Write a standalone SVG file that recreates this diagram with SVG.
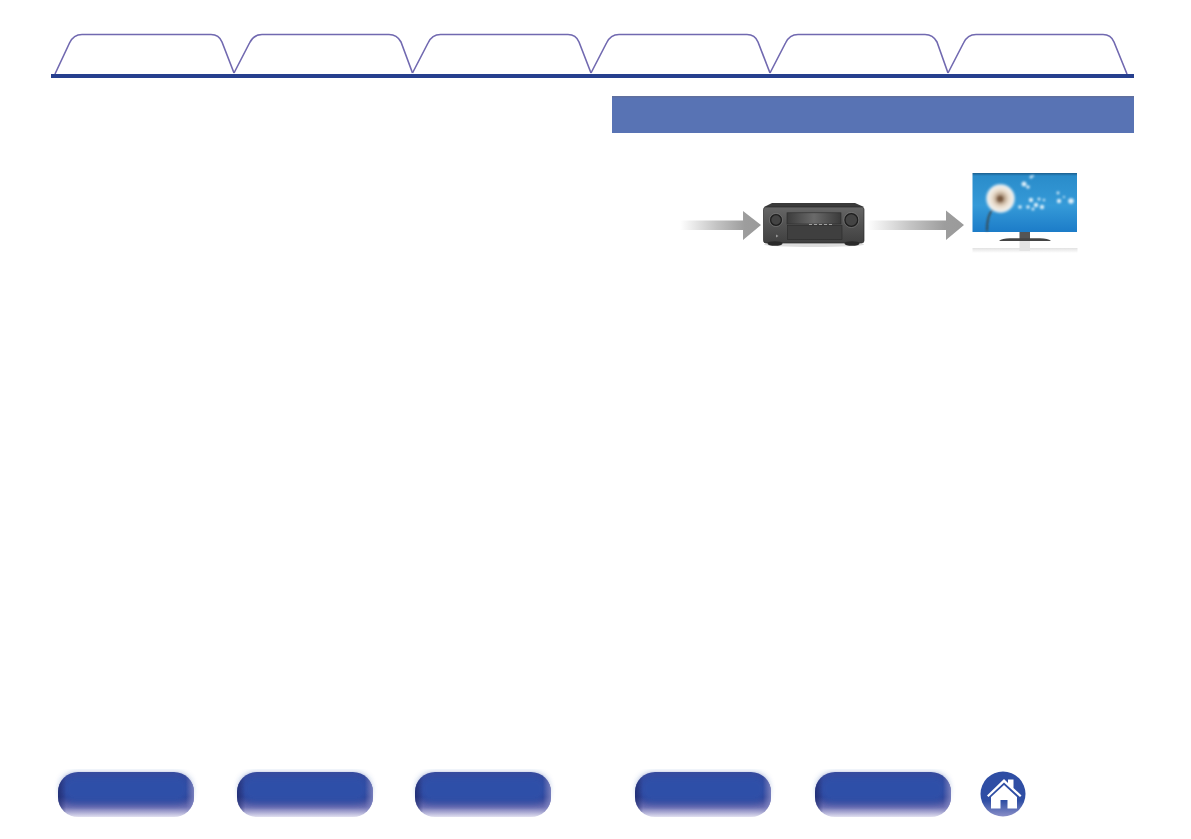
<svg xmlns="http://www.w3.org/2000/svg" width="1191" height="839" viewBox="0 0 1191 839">
<defs>
<style>
.tab{fill:#fff;stroke:#7169b0;stroke-width:1.6;stroke-linejoin:round}
</style>
<filter id="b3" x="-10%" y="-20%" width="120%" height="140%"><feGaussianBlur stdDeviation="3.500"/></filter>
<filter id="b1" x="-20%" y="-20%" width="140%" height="140%"><feGaussianBlur stdDeviation="0.5"/></filter>
<filter id="b2" x="-20%" y="-20%" width="140%" height="140%"><feGaussianBlur stdDeviation="0.8"/></filter>
<linearGradient id="btnOuter" x1="0" y1="0" x2="0" y2="1">
<stop offset="0" stop-color="#3b4b9c"/><stop offset=".55" stop-color="#2f3d8e"/><stop offset=".78" stop-color="#6d6fb3"/><stop offset="1" stop-color="#e2e0f0"/>
</linearGradient>
<linearGradient id="btnEdge" x1="0" y1="0" x2="1" y2="0">
<stop offset="0" stop-color="#1d2a6c" stop-opacity=".7"/><stop offset=".06" stop-color="#1d2a6c" stop-opacity="0"/><stop offset=".94" stop-color="#8a8fc8" stop-opacity="0"/><stop offset="1" stop-color="#8a8fc8" stop-opacity=".8"/>
</linearGradient>
<linearGradient id="arrowG" x1="0" y1="0" x2="1" y2="0">
<stop offset="0" stop-color="#fff"/><stop offset=".45" stop-color="#c4c4c4"/><stop offset=".8" stop-color="#9d9d9d"/><stop offset="1" stop-color="#9a9a9a"/>
</linearGradient>
<linearGradient id="sky" x1="0" y1="0" x2="0" y2="1">
<stop offset="0" stop-color="#1c5f8e"/><stop offset=".05" stop-color="#2a8cca"/><stop offset=".55" stop-color="#359ad8"/><stop offset="1" stop-color="#1c7cc8"/>
</linearGradient>
<radialGradient id="puff"><stop offset="0" stop-color="#7a5a40"/><stop offset=".25" stop-color="#b49c84"/><stop offset=".55" stop-color="#eaddcd"/><stop offset=".85" stop-color="#f0f0ee"/><stop offset="1" stop-color="#bcdcf0" stop-opacity=".4"/></radialGradient>
<linearGradient id="body" x1="0" y1="0" x2="0" y2="1"><stop offset="0" stop-color="#666"/><stop offset=".5" stop-color="#525252"/><stop offset="1" stop-color="#404040"/></linearGradient>
<linearGradient id="disp" x1="0" y1="0" x2="1" y2="0"><stop offset="0" stop-color="#3c3c3c"/><stop offset=".5" stop-color="#6a6a6a"/><stop offset="1" stop-color="#3a3a3a"/></linearGradient>
<linearGradient id="homeG" x1="0" y1="0" x2="0" y2="1"><stop offset="0" stop-color="#2f4ea4"/><stop offset=".65" stop-color="#2f4ea4"/><stop offset="1" stop-color="#8a8fc8"/></linearGradient>
<linearGradient id="stand" x1="0" y1="0" x2="0" y2="1"><stop offset="0" stop-color="#e2e2e2"/><stop offset="1" stop-color="#fff"/></linearGradient>
<g id="btn">
<rect width="136" height="45" rx="20" ry="20" fill="url(#btnOuter)"/>
<rect x="4" y="3" width="128" height="28" rx="13" fill="#2f4fa8" filter="url(#b3)"/>
<rect width="136" height="45" rx="20" ry="20" fill="url(#btnEdge)"/>
</g>
</defs>

<g id="tabs">
<path class="tab" d="M55 74L69.500 43Q73.500 34.500 82 34.500H211Q219 34.500 222 42L234 73"/>
<path class="tab" d="M234 73L249.500 43Q253.500 34.500 262 34.500H389Q397 34.500 401 42L412.500 73"/>
<path class="tab" d="M412.500 73L428 43Q432 34.500 440.500 34.500H568Q576 34.500 579 42L591 73"/>
<path class="tab" d="M591 73L606.500 43Q610.500 34.500 619 34.500H747Q755 34.500 758 42L770 73"/>
<path class="tab" d="M770 73L785.500 43Q789.500 34.500 798 34.500H925Q933 34.500 937 42L948 73"/>
<path class="tab" d="M948 73L963.500 43Q967.500 34.500 976 34.500H1103Q1111 34.500 1114 42L1127 74"/>
</g>
<rect id="tab-rule" x="51" y="74" width="1083" height="4" fill="#263f8e"/>
<g id="section-bar">
<rect x="612" y="96" width="522" height="37" fill="#5873b4"/>
<rect x="612" y="96" width="522" height="1.500" fill="#5f6f9e"/>
</g>

<g id="connectors">
<path d="M680 220.500H743V211L761 225L743 240V230H680Z" fill="url(#arrowG)"/>
<path d="M867 220.500H946V210.500L964 225L946 240V230H867Z" fill="url(#arrowG)"/>
</g>

<g id="receiver">
<ellipse cx="814" cy="244.500" rx="50" ry="2.500" fill="#ddd" filter="url(#b1)"/>
<path d="M764 207L772 203H855L864 207Z" fill="#3a3a3a"/>
<rect x="763.500" y="207" width="100.500" height="36" rx="2.500" fill="url(#body)" stroke="#2a2a2a" stroke-width=".7"/>
<ellipse cx="775" cy="243.500" rx="7.500" ry="2.300" fill="#2a2a2a"/>
<ellipse cx="852" cy="243.500" rx="7.500" ry="2.300" fill="#2a2a2a"/>
<circle cx="776" cy="220" r="5.500" fill="#444" stroke="#1e1e1e" stroke-width="1.500"/>
<circle cx="776" cy="220" r="6.500" fill="none" stroke="#888" stroke-width=".5"/>
<circle cx="851.300" cy="220" r="6.500" fill="#444" stroke="#1e1e1e" stroke-width="1.500"/>
<circle cx="851.300" cy="220" r="7.500" fill="none" stroke="#888" stroke-width=".5"/>
<rect x="787" y="212.800" width="54" height="11.200" fill="url(#disp)" stroke="#2a2a2a" stroke-width=".6"/>
<rect x="787.500" y="225.500" width="54.500" height="14" fill="#3f3f3f" stroke="#2a2a2a" stroke-width=".6"/>
<path d="M809 224.500H832" stroke="#c8c8c8" stroke-width=".7" stroke-dasharray="3 2"/>
<path d="M776 234.500v3l2.500-1.500z" fill="#999"/>
</g>

<g id="monitor">
<rect x="972.500" y="173" width="104.500" height="59" fill="url(#sky)"/>
<g filter="url(#b2)">
<path d="M987 231C987 217 990 210 997 206" fill="none" stroke="#40362a" stroke-width="1.400"/>
<circle cx="1000.500" cy="198.500" r="15" fill="url(#puff)"/>
<circle cx="1000" cy="199" r="3.500" fill="#6a4a30" opacity=".6"/>
<g fill="#d8ecf8">
<circle cx="1024" cy="184" r="2.500"/><circle cx="1031" cy="177" r="1.500"/><circle cx="1028" cy="187" r="1.800"/><circle cx="1033" cy="176" r="1"/>
<circle cx="1031" cy="200" r="2.200"/><circle cx="1036" cy="205" r="2.200"/><circle cx="1028" cy="207" r="1.800"/><circle cx="1042" cy="207" r="2.200"/><circle cx="1020" cy="207" r="1.800"/><circle cx="1039" cy="199" r="1.500"/><circle cx="1033" cy="209" r="1.500"/><circle cx="1044" cy="200" r="1.200"/>
<circle cx="1059" cy="201" r="2.200"/><circle cx="1058" cy="193" r="1.400"/><circle cx="1071" cy="201" r="2.800"/><circle cx="1064" cy="197" r="1.100"/>
</g>
</g>
<rect x="1019.500" y="232" width="10.500" height="7" fill="#555"/>
<path d="M999 241Q1002 238.300 1010 238.300H1040Q1048 238.300 1051 241Z" fill="#444"/>
<rect x="972.500" y="248" width="105" height="5" fill="url(#stand)"/>
<rect x="1019.500" y="241" width="10.500" height="10" fill="#e4e4e4"/>
</g>

<use id="btn-1" href="#btn" x="58" y="772"/>
<use id="btn-2" href="#btn" x="237" y="772"/>
<use id="btn-3" href="#btn" x="415" y="772"/>
<use id="btn-4" href="#btn" x="635" y="772"/>
<use id="btn-5" href="#btn" x="815" y="772"/>
<g id="home">
<circle cx="1003" cy="794" r="22.500" fill="url(#homeG)"/>
<path d="M1004 779L987 795.500L988.500 797L1004 782.500L1020 797L1021.500 795.500L1013.500 788V779.500H1008V783Z" fill="#fff"/>
<path d="M1004 785L991 797V808.500H1000.500V800H1007.500V808.500H1017V797Z" fill="#fff"/>
</g>
</svg>
